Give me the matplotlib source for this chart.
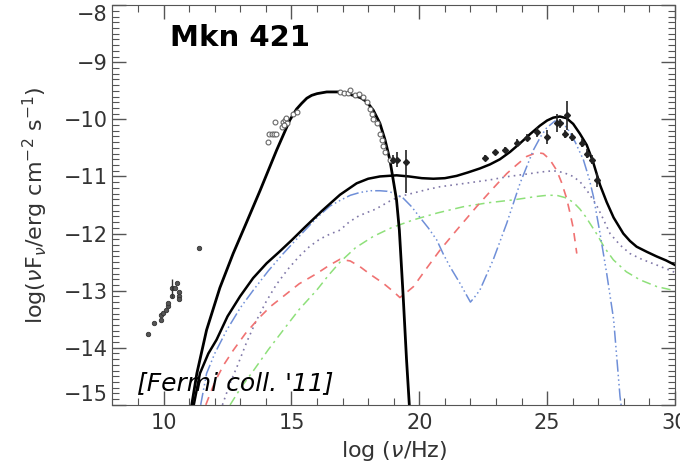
import numpy as np
import matplotlib.pyplot as plt
from matplotlib.ticker import MultipleLocator

# radio data
radio_x = [9.40, 9.63, 9.88, 9.88, 9.96, 10.09, 10.16, 10.18, 10.31, 10.31, 10.44, 10.51, 10.61, 10.61, 10.61, 11.38]
radio_y = [-13.75, -13.56, -13.51, -13.43, -13.39, -13.33, -13.27, -13.21, -13.09, -12.96, -12.96, -12.86, -13.03, -13.09, -13.15, -12.26]

# optical / UV
opt_x = [14.09, 14.13, 14.23, 14.32, 14.39, 14.36, 14.62, 14.68, 14.75, 14.81, 15.07, 15.20, 14.72, 14.78]
opt_y = [-10.39, -10.25, -10.25, -10.25, -10.25, -10.05, -10.13, -10.04, -10.01, -10.07, -9.90, -9.87, -10.10, -9.98]

# X-ray (circles along the synchrotron peak)
xr_x = [16.90, 17.05, 17.22, 17.29, 17.48, 17.65, 17.81, 17.94, 18.07, 18.14, 18.20, 18.33, 18.46, 18.53, 18.59, 18.66, 18.85]
xr_y = [-9.52, -9.53, -9.54, -9.49, -9.57, -9.55, -9.60, -9.69, -9.82, -9.90, -10.00, -10.07, -10.25, -10.36, -10.46, -10.57, -10.71]

# hard X-ray with error bars
hx_x = [18.98, 19.11, 19.48]
hx_y = [-10.71, -10.71, -10.74]
hx_lo = [0.08, 0.13, 0.55]
hx_hi = [0.08, 0.13, 0.20]

# gamma rays
gam_x = [22.57, 22.96, 23.35, 23.81, 24.20, 24.59, 24.98, 25.37, 25.50, 25.76, 25.70, 25.96, 26.36, 26.55, 26.74, 26.94]
gam_y = [-10.68, -10.58, -10.54, -10.41, -10.32, -10.22, -10.31, -10.07, -10.07, -9.93, -10.25, -10.31, -10.42, -10.60, -10.71, -11.06]
gam_err = [0.05, 0.05, 0.05, 0.06, 0.06, 0.09, 0.12, 0.16, 0.08, 0.25, 0.07, 0.07, 0.07, 0.08, 0.08, 0.12]

# model curves
sync_x = [11.10, 11.30, 11.68, 12.20, 12.72, 13.20, 13.77, 14.42, 14.94, 15.20, 15.40, 15.60, 15.79, 16.00, 16.38, 16.90,
          17.42, 17.70, 17.94, 18.20, 18.46, 18.66, 18.85, 18.98, 19.11, 19.22, 19.37, 19.50, 19.61]
sync_y = [-15.0, -14.45, -13.69, -12.95, -12.35, -11.85, -11.25, -10.54, -10.01, -9.82, -9.72, -9.63, -9.58, -9.55, -9.52, -9.52,
          -9.58, -9.62, -9.69, -9.84, -10.07, -10.36, -10.71, -11.06, -11.41, -11.94, -13.10, -14.20, -15.0]

tot_x = [11.18, 11.42, 11.75, 12.07, 12.50, 12.99, 13.50, 14.03, 14.50, 15.00, 15.50, 16.20, 16.90, 17.55, 18.00, 18.46,
         19.11, 19.60, 20.10, 20.55, 21.00, 21.46, 21.90, 22.37, 22.76, 23.15, 23.55, 23.94, 24.33, 24.72, 25.00, 25.24,
         25.50, 25.76, 26.02, 26.28, 26.55, 26.80, 27.07, 27.33, 27.60, 27.98, 28.24, 28.50, 28.90, 29.28, 29.65, 30.0]
tot_y = [-15.0, -14.45, -14.10, -13.86, -13.45, -13.10, -12.78, -12.52, -12.33, -12.12, -11.90, -11.60, -11.32, -11.12, -11.04, -11.00,
         -10.98, -11.00, -11.03, -11.04, -11.03, -10.99, -10.93, -10.86, -10.79, -10.70, -10.57, -10.42, -10.26, -10.11, -10.02, -9.97,
         -9.95, -9.98, -10.08, -10.25, -10.45, -10.75, -11.15, -11.45, -11.72, -12.00, -12.13, -12.23, -12.32, -12.40, -12.47, -12.55]

blue_x = [11.45, 11.68, 12.00, 12.47, 13.00, 13.51, 14.10, 14.68, 15.30, 16.00, 16.50, 16.90, 17.30, 17.68, 18.10, 18.46,
          18.75, 19.00, 19.37, 19.70, 20.03, 20.35, 20.68, 20.94, 21.20, 21.59, 21.85, 22.00, 22.15, 22.37, 22.89, 23.42,
          23.94, 24.46, 24.75, 24.98, 25.30, 25.60, 25.85, 26.10, 26.42, 26.65, 26.81, 27.07, 27.33, 27.60, 27.85, 27.95]
blue_y = [-15.0, -14.45, -14.10, -13.69, -13.30, -12.99, -12.65, -12.35, -12.05, -11.72, -11.52, -11.42, -11.33, -11.28, -11.25, -11.25,
          -11.26, -11.29, -11.38, -11.53, -11.72, -11.90, -12.11, -12.36, -12.58, -12.87, -13.08, -13.20, -13.12, -12.99, -12.46, -11.82,
          -11.12, -10.54, -10.30, -10.15, -10.03, -10.05, -10.20, -10.40, -10.71, -11.05, -11.35, -12.00, -12.70, -13.50, -14.85, -15.2]

red_x = [11.65, 12.00, 12.35, 12.73, 13.20, 13.77, 14.20, 14.68, 15.30, 15.99, 16.50, 16.90, 17.30, 17.68, 18.10, 18.59,
         19.00, 19.24, 19.45, 19.77, 20.30, 20.81, 21.46, 22.24, 22.80, 23.42, 23.80, 24.20, 24.60, 24.85, 25.10, 25.37,
         25.56, 25.76, 25.90, 26.02, 26.16]
red_y = [-15.0, -14.60, -14.30, -14.04, -13.75, -13.46, -13.27, -13.10, -12.88, -12.70, -12.55, -12.45, -12.48, -12.58, -12.72, -12.87,
         -13.02, -13.12, -13.05, -12.93, -12.60, -12.29, -11.94, -11.53, -11.25, -10.95, -10.80, -10.65, -10.58, -10.60, -10.70, -10.89,
         -11.10, -11.38, -11.65, -11.90, -12.35]

purp_x = [12.30, 12.60, 12.90, 13.25, 13.60, 14.00, 14.40, 14.85, 15.30, 15.70, 16.10, 16.50, 16.90, 17.25, 17.60, 17.90,
          18.20, 18.46, 18.85, 19.24, 19.77, 20.30, 20.81, 21.80, 22.76, 23.50, 24.33, 24.80, 25.24, 25.63, 26.02, 26.30,
          26.55, 26.93, 27.20, 27.46, 27.85, 28.24, 28.70, 29.28, 30.0]
purp_y = [-15.0, -14.62, -14.30, -13.90, -13.55, -13.20, -12.90, -12.63, -12.40, -12.23, -12.10, -12.01, -11.94, -11.80, -11.70, -11.64,
          -11.59, -11.53, -11.43, -11.35, -11.29, -11.23, -11.18, -11.12, -11.06, -11.00, -10.95, -10.92, -10.90, -10.93, -11.00, -11.10,
          -11.24, -11.50, -11.75, -12.00, -12.20, -12.35, -12.45, -12.55, -12.68]

green_x = [12.60, 13.05, 13.53, 14.10, 14.68, 15.30, 15.99, 16.45, 16.90, 17.50, 18.20, 18.90, 19.77, 20.70, 21.72, 22.70,
           23.68, 24.59, 25.00, 25.37, 25.70, 26.02, 26.28, 26.50, 26.93, 27.25, 27.59, 28.10, 28.63, 29.30, 30.0]
green_y = [-15.0, -14.68, -14.39, -14.03, -13.69, -13.33, -12.99, -12.73, -12.50, -12.25, -12.05, -11.90, -11.76, -11.64, -11.53, -11.46,
           -11.41, -11.35, -11.33, -11.33, -11.37, -11.45, -11.57, -11.70, -12.00, -12.25, -12.46, -12.67, -12.81, -12.93, -13.00]

fig = plt.figure(figsize=(6.8, 4.67), dpi=100)
ax = fig.add_axes([0.1654, 0.133, 0.8272, 0.856])

ax.plot(green_x, green_y, color='#8ee07a', lw=1.1, dashes=[6, 3, 1.5, 3])
ax.plot(purp_x, purp_y, color='#8078a8', lw=1.2, dashes=[1, 2.5])
ax.plot(red_x, red_y, color='#f07272', lw=1.2, dashes=[5, 4])
ax.plot(blue_x, blue_y, color='#6f8fd8', lw=1.1, dashes=[8, 2, 1, 2, 1, 2, 1, 2])
ax.plot(tot_x, tot_y, color='black', lw=1.8)
ax.plot(sync_x, sync_y, color='black', lw=2.0)

ax.plot(radio_x, radio_y, 'o', ms=3.2, mfc='#555555', mec='#333333', mew=0.6)
ax.errorbar([10.31], [-12.96], yerr=[0.16], fmt='none', ecolor='#333333', elinewidth=1)
ax.plot(opt_x, opt_y, 'o', ms=3.5, mfc='white', mec='#666666', mew=0.8)
ax.plot(xr_x, xr_y, 'o', ms=3.5, mfc='white', mec='#666666', mew=0.8)
ax.errorbar(hx_x, hx_y, yerr=[hx_lo, hx_hi], fmt='D', ms=3, color='#222222', elinewidth=1.2)
ax.errorbar(gam_x, gam_y, yerr=gam_err, fmt='D', ms=3, color='#222222', elinewidth=1.2)

ax.set_xlim(8, 30)
ax.set_ylim(-15, -8)
ax.set_xticks([10, 15, 20, 25, 30])
ax.set_yticks([-15, -14, -13, -12, -11, -10, -9, -8])
ax.xaxis.set_minor_locator(MultipleLocator(1))
ax.yaxis.set_minor_locator(MultipleLocator(0.1))
ax.tick_params(which='both', direction='in', top=True, right=True, color='#555555',
               labelcolor='#333333', labelsize=15)
ax.tick_params(which='major', length=10, width=1)
ax.tick_params(which='minor', length=5, width=0.8)
ax.tick_params(axis='x', pad=6)
for s in ax.spines.values():
    s.set_color('#555555')

# keep the end labels inside the box, like the original
ylabels = ax.get_yticklabels()
ylabels[0].set_verticalalignment('bottom')
ylabels[-1].set_verticalalignment('top')

ax.set_xlabel(r'log ($\nu$/Hz)', fontsize=16, color='#333333')
ax.set_ylabel(r'log($\nu$F$_\nu$/erg cm$^{-2}$ s$^{-1}$)', fontsize=16, color='#333333', labelpad=10)

ax.text(10.25, -8.58, 'Mkn 421', fontsize=21, fontweight='bold', va='center')
ax.text(8.95, -14.62, "[Fermi coll. '11]", fontsize=18, style='italic', va='center')

fig.savefig('out.png', dpi=100)
